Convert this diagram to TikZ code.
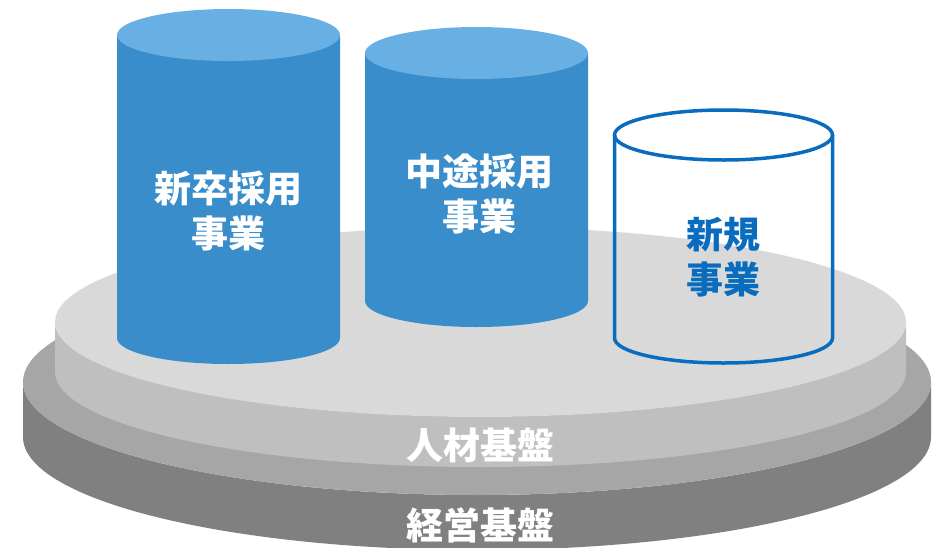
\documentclass[tikz,border=0pt]{standalone}
\usepackage{fontspec}
\setmainfont{Noto Sans CJK JP}
\definecolor{sideblue}{HTML}{3A8DCB}
\definecolor{topblue}{HTML}{68B0E3}
\definecolor{lineblue}{HTML}{0A6CBF}
\definecolor{gTop}{HTML}{D9D9D9}
\definecolor{gSide}{HTML}{BFBFBF}
\definecolor{gMid}{HTML}{A6A6A6}
\definecolor{gDark}{HTML}{808080}
\tikzset{
  lbl/.style={inner sep=0pt, align=center, text=white, font=\fontsize{37}{45}\selectfont\bfseries},
  bluelbl/.style={lbl, text=lineblue}
}
\begin{document}
\begin{tikzpicture}[x=1pt,y=-1pt]
\useasboundingbox (0,0) rectangle (932,547);
% bottom platform (management base)
\fill[gDark] (23,382) -- (23,437) arc[start angle=180,end angle=360,x radius=454pt,y radius=113pt] -- (931,382) arc[start angle=360,end angle=180,x radius=454pt,y radius=113pt] -- cycle;
\fill[gMid] (477,382) ellipse[x radius=454pt, y radius=113pt];
% top platform (human resources base)
\fill[gSide] (55,322) -- (55,372) arc[start angle=180,end angle=360,x radius=425.5pt,y radius=95pt] -- (906,322) arc[start angle=360,end angle=180,x radius=425.5pt,y radius=95pt] -- cycle;
\fill[gTop] (480.5,322) ellipse[x radius=425.5pt, y radius=95pt];
% cylinder 1
\fill[sideblue] (117,35) -- (117,338) arc[start angle=180,end angle=360,x radius=111.5pt,y radius=26pt] -- (340,35) -- cycle;
\fill[topblue] (228.5,35) ellipse[x radius=111.5pt, y radius=26pt];
% cylinder 2
\fill[sideblue] (365,53) -- (365,301) arc[start angle=180,end angle=360,x radius=111.5pt,y radius=26pt] -- (588,53) -- cycle;
\fill[topblue] (476.5,53) ellipse[x radius=111.5pt, y radius=26pt];
% cylinder 3 (outline)
\draw[lineblue, line width=3.5pt] (723.5,135) ellipse[x radius=109pt, y radius=25pt];
\draw[lineblue, line width=3.5pt, line join=round] (614.5,135) -- (614.5,338) arc[start angle=180,end angle=360,x radius=109pt,y radius=25pt] -- (832.5,135);
% labels
\node[lbl] (c1) at (228.5,211) {新卒採用\\事業};
\node[lbl] (c2) at (479,194) {中途採用\\事業};
\node[bluelbl] (c3) at (723,257) {新規\\事業};
\node[lbl] (hr) at (480,445) {人材基盤};
\node[lbl] (mg) at (480,525) {経営基盤};
\end{tikzpicture}
\end{document}
